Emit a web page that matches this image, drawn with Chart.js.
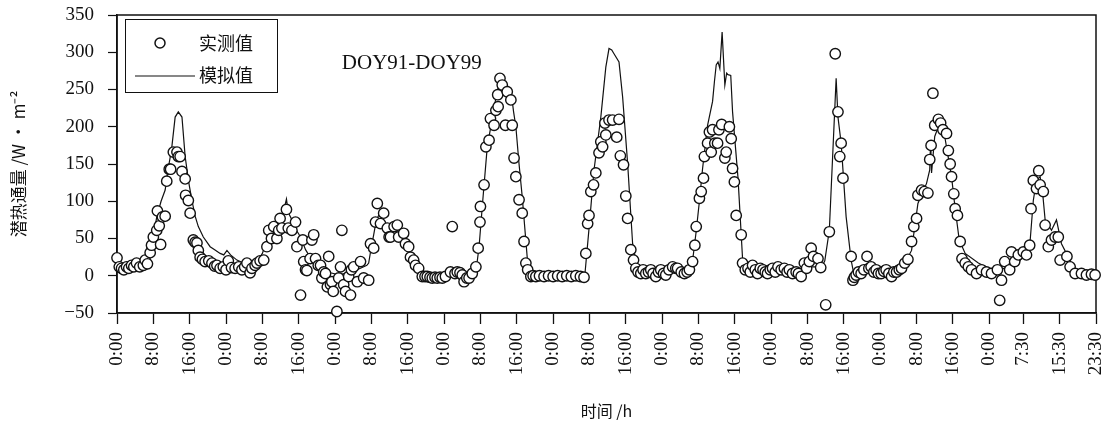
<!DOCTYPE html>
<html>
<head>
<meta charset="utf-8">
<title>潜热通量 DOY91-DOY99</title>
<script src="https://cdn.jsdelivr.net/npm/chart.js@4.4.1/dist/chart.umd.min.js"></script>
<style>
    html, body { margin: 0; padding: 0; background: #fff; }
    #wrap { width: 1104px; height: 429px; }
</style>
</head>
<body>
<div id="wrap"><canvas id="fluxChart" width="1104" height="429"></canvas></div>
<script>
// Measured latent heat flux (W/m2) vs. hours since DOY91 0:00
const obsHours = [
    0.0, 0.5, 1.0, 1.5, 2.1, 2.6, 3.2, 3.7, 4.3, 5.0,
    5.8, 6.2, 6.7, 7.3, 7.6, 8.0, 8.75, 8.9, 9.3, 9.6,
    10.0, 10.6, 10.95, 11.5, 11.8, 12.4, 13.2, 13.5, 13.9, 14.3,
    15.0, 15.1, 15.7, 16.1, 16.8, 17.2, 17.6, 17.9, 18.3, 18.8,
    19.4, 20.2, 20.9, 21.5, 22.0, 22.7, 23.4, 24.0, 24.5, 25.2,
    26.0, 26.8, 27.5, 28.1, 28.6, 29.3, 29.7, 30.4, 30.8, 31.5,
    32.3, 33.0, 33.4, 34.0, 34.5, 35.2, 35.6, 35.9, 36.3, 37.3,
    37.7, 38.5, 39.3, 39.6, 40.4, 40.9, 41.1, 41.5, 41.8, 42.5,
    42.9, 43.3, 43.7, 44.3, 44.8, 45.1, 45.5, 45.9, 46.3, 46.6,
    47.0, 47.3, 47.6, 48.4, 48.8, 49.2, 49.5, 49.9, 50.3, 51.0,
    51.4, 51.6, 52.1, 52.9, 53.6, 54.3, 55.4, 55.8, 56.5, 56.9,
    57.3, 58.0, 58.7, 59.5, 59.9, 60.2, 61.0, 61.7, 62.0, 63.1,
    63.5, 64.2, 64.6, 65.3, 65.7, 66.4, 67.2, 67.8, 68.3, 68.9,
    69.4, 70.0, 70.5, 71.1, 71.6, 72.3, 73.4, 73.8, 74.4, 74.9,
    75.5, 76.0, 76.4, 77.0, 77.5, 78.2, 79.0, 79.5, 79.9, 80.0,
    80.8, 81.2, 81.9, 82.2, 83.0, 83.4, 83.8, 83.9, 84.3, 84.8,
    85.5, 85.9, 86.7, 87.0, 87.4, 87.8, 88.5, 89.2, 89.6, 90.0,
    90.4, 91.1, 91.6, 92.2, 93.0, 94.0, 95.0, 96.0, 97.0, 98.0,
    99.0, 100.0, 101.0, 102.0, 102.8, 103.2, 103.6, 103.9, 104.3, 104.9,
    105.4, 106.1, 106.5, 106.9, 107.4, 107.6, 108.3, 109.1, 110.0, 110.5,
    110.8, 111.5, 112.0, 112.4, 113.1, 113.7, 114.2, 114.7, 115.3, 115.8,
    116.4, 117.0, 117.5, 118.0, 118.6, 119.2, 119.7, 120.3, 120.8, 121.5,
    122.3, 123.0, 123.4, 124.2, 124.9, 125.5, 126.0, 126.7, 127.2, 127.5,
    128.2, 128.6, 129.1, 129.3, 130.0, 130.4, 130.8, 131.1, 131.6, 132.2,
    132.5, 133.1, 133.8, 134.1, 134.8, 135.2, 135.5, 135.9, 136.3, 137.4,
    137.7, 138.3, 138.9, 139.4, 139.9, 140.5, 141.0, 141.6, 142.2, 142.7,
    143.2, 143.8, 144.3, 144.9, 145.5, 146.2, 146.9, 147.5, 148.0, 148.7,
    149.5, 150.0, 150.6, 151.3, 151.8, 152.4, 152.8, 153.3, 154.3, 154.9,
    156.0, 156.8, 158.1, 158.7, 159.1, 159.4, 159.8, 161.6, 162.0, 162.3,
    162.7, 163.2, 163.8, 164.4, 165.1, 165.5, 166.0, 166.6, 167.1, 167.6,
    168.2, 168.8, 169.3, 169.9, 170.5, 171.0, 171.6, 172.2, 172.7, 173.4,
    174.1, 174.9, 175.4, 176.0, 176.3, 177.1, 177.7, 178.5, 178.9, 179.2,
    179.6, 180.0, 180.8, 181.3, 181.8, 182.6, 183.0, 183.4, 183.7, 184.2,
    184.5, 185.0, 185.6, 186.0, 186.7, 187.4, 188.1, 189.2, 190.3, 191.4,
    192.5, 193.8, 194.3, 194.7, 195.4, 196.5, 196.9, 197.6, 198.4, 199.5,
    200.2, 200.9, 201.2, 201.7, 202.4, 202.9, 203.2, 203.9, 204.3, 205.0,
    205.7, 206.5, 207.2, 207.6, 209.1, 209.8, 210.9, 212.3, 213.4, 214.5,
    215.3
];
const obsValues = [
    24, 12, 10, 8, 12, 10, 14, 12, 17, 12,
    14, 21, 16, 31, 41, 52, 61, 87, 67, 42,
    79, 80, 127, 143, 143, 166, 166, 160, 160, 140,
    130, 108, 101, 84, 48, 45, 44, 34, 25, 22,
    19, 20, 17, 13, 14, 10, 12, 8, 20, 11,
    10, 12, 8, 12, 17, 4, 10, 14, 17, 20,
    21, 39, 61, 50, 66, 50, 61, 77, 64, 89,
    64, 61, 72, 39, -26, 48, 19, 8, 7, 23,
    48, 55, 23, 14, 14, -3, 5, 3, -15, 26,
    -12, -8, -21, -48, -3, 12, 61, -12, -21, -1,
    -26, 8, 12, -8, 19, -3, -6, 43, 37, 72,
    97, 70, 84, 64, 52, 52, 66, 68, 52, 57,
    43, 39, 25, 21, 14, 10, -1, -1, -1, -2,
    -3, -2, -3, -2, -3, -1, 5, 66, 3, 5,
    4, 1, -8, -3, -3, 3, 12, 37, 72, 93,
    122, 173, 182, 211, 202, 222, 243, 227, 265, 256,
    202, 247, 236, 202, 158, 133, 102, 84, 46, 17,
    8, -1, 0, -1, 0, -1, 0, -1, 0, -1,
    0, -1, 0, -1, -2, 30, 70, 81, 113, 122,
    138, 165, 180, 173, 205, 189, 209, 209, 186, 210,
    161, 149, 107, 77, 35, 21, 10, 5, 3, 8,
    3, 5, 8, 3, -1, 5, 8, 3, 1, 8,
    12, 10, 10, 5, 3, 5, 8, 19, 41, 66,
    104, 113, 131, 160, 178, 193, 166, 196, 178, 178,
    196, 203, 158, 166, 200, 184, 144, 126, 81, 55,
    17, 8, 10, 5, 14, 8, 3, 10, 8, 5,
    3, 8, 10, 5, 12, 8, 10, 5, 8, 3,
    5, 3, -1, 17, 10, 19, 37, 26, 23, 11,
    -39, 59, 298, 220, 160, 178, 131, 26, -6, -2,
    1, 5, 3, 8, 26, 10, 12, 5, 8, 3,
    3, 6, 8, 3, -1, 5, 5, 8, 10, 17,
    22, 46, 66, 77, 108, 115, 113, 111, 156, 175,
    245, 202, 210, 205, 196, 191, 168, 150, 133, 110,
    90, 81, 46, 23, 17, 12, 8, 3, 8, 5,
    3, 8, -33, -6, 19, 8, 32, 19, 28, 32,
    28, 41, 90, 128, 117, 141, 122, 113, 68, 39,
    48, 52, 52, 21, 26, 12, 3, 3, 1, 2,
    1
];

// Simulated latent heat flux
const simHours = [
    0, 1, 2, 3, 4, 5, 5.7, 6.5, 7.5, 8.75,
    9.7, 10.6, 11.3, 12, 12.8, 13.5, 14.3, 15, 15.8, 16.5,
    17.2, 17.9, 19, 20.5, 21.5, 22.7, 23.5, 24.2, 25, 26.4,
    27.5, 29.3, 30, 31, 32, 33, 34, 35.2, 36, 36.8,
    37.3, 37.7, 38.5, 39.6, 40.4, 41.5, 42.5, 43.5, 44.5, 45.5,
    47, 49, 50.5, 52, 53.6, 55, 55.4, 56, 56.5, 57,
    57.5, 58, 58.7, 59.2, 60, 61, 62, 63, 64, 65,
    66, 67, 68, 70, 72, 74, 76, 78, 79, 79.7,
    80.5, 81.5, 82.6, 83.7, 84.8, 85.6, 86.7, 87.3, 87.8, 88.5,
    89.2, 90.4, 91, 94, 97, 100, 103, 104, 105, 106.5,
    107.6, 108.3, 108.9, 109.4, 110.5, 111.3, 112.4, 113.5, 114.6, 116,
    118, 120, 122, 124, 126, 126.7, 127.5, 128.2, 128.9, 130,
    131.1, 131.5, 131.9, 132.3, 132.7, 133.2, 133.8, 134.2, 134.5, 135.1,
    135.5, 136.7, 137.7, 138.5, 140, 142, 144, 146, 148, 150,
    152, 154, 155, 155.8, 156.8, 158.3, 158.7, 159.4, 160.5, 161.6,
    162.3, 163, 165, 167, 169, 171, 173, 174.9, 176.3, 178.2,
    178.9, 179.1, 179.3, 180, 180.8, 182.2, 183.7, 184.5, 185.4, 186.7,
    189.6, 192.5, 195.4, 198.4, 200.9, 201.7, 202.4, 203.2, 203.8, 204.3,
    205.7, 206.8, 207.9, 209.4, 210.9, 212.5, 215.5
];
const simValues = [
    20, 12, 10, 12, 12, 12, 13, 20, 35, 79,
    100, 115, 145, 169, 213, 220, 213, 160, 125, 101,
    80, 66, 52, 39, 35, 30, 28, 34, 28, 21,
    18, 17, 17, 20, 30, 48, 55, 66, 75, 90,
    103, 85, 75, 60, 52, 35, 25, 17, 14, 10,
    4, 1, 4, 6, 10, 14, 17, 39, 55, 72,
    80, 85, 64, 70, 62, 66, 55, 52, 40, 25,
    14, 3, 0, 0, 1, 1, 0, 1, 5, 39,
    100, 173, 211, 249, 263, 258, 249, 220, 200, 150,
    106, 17, 0, 0, 1, 0, 2, 70, 142, 213,
    280, 305, 303, 298, 287, 240, 151, 43, 8, 6,
    5, 6, 8, 6, 10, 20, 60, 100, 144, 202,
    234, 260, 283, 287, 278, 327, 256, 272, 270, 269,
    220, 131, 23, 14, 10, 8, 10, 8, 10, 8,
    12, 12, 10, 20, 61, 265, 213, 178, 79, 21,
    -1, 3, 8, 8, 6, 8, 12, 34, 97, 124,
    142, 182, 138, 187, 200, 187, 133, 90, 48, 30,
    17, 8, 10, 17, 39, 101, 128, 133, 108, 75,
    61, 75, 43, 25, 8, 3, 1
];

// x axis ticks (hours) and their labels
const tickHours = [0, 8, 16, 24, 32, 40, 48, 56, 64, 72, 80, 88, 96, 104, 112,
    120, 128, 136, 144, 152, 160, 168, 176, 184, 192, 199.5, 207.5, 215.5];
const tickLabels = ['0:00', '8:00', '16:00', '0:00', '8:00', '16:00', '0:00', '8:00', '16:00',
    '0:00', '8:00', '16:00', '0:00', '8:00', '16:00', '0:00', '8:00', '16:00',
    '0:00', '8:00', '16:00', '0:00', '8:00', '16:00', '0:00', '7:30', '15:30', '23:30'];

const INK = '#111';
const SERIF = "'Liberation Serif', 'DejaVu Serif', serif";
const CJK = "'Noto Sans CJK SC', sans-serif";

/**
 * Box around the plot area
 */
const framePlugin = {
    id: 'frame',
    beforeDatasetsDraw(chart) {
        const a = chart.chartArea;
        const c = chart.ctx;
        c.save();
        c.strokeStyle = INK;
        c.lineWidth = 1.5;
        c.strokeRect(a.left, a.top, a.right - a.left, a.bottom - a.top);
        c.restore();
    }
};

/**
 * Legend box in the top left corner and the period label
 */
const legendPlugin = {
    id: 'boxLegend',
    afterDraw(chart) {
        const a = chart.chartArea;
        const c = chart.ctx;
        const x0 = a.left + 8, y0 = a.top + 4;
        c.save();
        c.fillStyle = '#fff';
        c.fillRect(x0, y0, 152, 73);
        c.strokeStyle = INK;
        c.lineWidth = 1;
        c.strokeRect(x0 + 0.5, y0 + 0.5, 152, 73);

        // measured entry
        c.beginPath();
        c.arc(x0 + 35, y0 + 24, 5, 0, Math.PI * 2);
        c.lineWidth = 1.5;
        c.stroke();
        c.fillStyle = INK;
        c.font = '18px ' + CJK;
        c.textBaseline = 'middle';
        c.fillText('实测值', x0 + 74, y0 + 24);

        // simulated entry
        c.beginPath();
        c.moveTo(x0 + 10, y0 + 57);
        c.lineTo(x0 + 70, y0 + 57);
        c.lineWidth = 1.2;
        c.stroke();
        c.fillText('模拟值', x0 + 74, y0 + 56);

        // period label
        c.font = '21px ' + SERIF;
        c.fillText('DOY91-DOY99', chart.scales.x.getPixelForValue(49.5), chart.scales.y.getPixelForValue(285));
        c.restore();
    }
};

function toPoints(xs, ys) {
    return xs.map((x, i) => ({ x: x, y: ys[i] }));
}

new Chart(document.getElementById('fluxChart'), {
    type: 'scatter',
    data: {
        datasets: [{
            label: '实测值',
            data: toPoints(obsHours, obsValues),
            showLine: false,
            pointRadius: 5.2,
            pointBorderWidth: 1.4,
            pointBackgroundColor: '#fff',
            pointBorderColor: INK,
            clip: false
        }, {
            label: '模拟值',
            type: 'line',
            data: toPoints(simHours, simValues),
            borderColor: INK,
            borderWidth: 1.2,
            pointRadius: 0,
            tension: 0,
            fill: false
        }]
    },
    options: {
        responsive: false,
        animation: false,
        events: [],
        layout: { padding: { top: 15, right: 8, left: 0, bottom: 0 } },
        plugins: {
            legend: { display: false },
            tooltip: { enabled: false }
        },
        scales: {
            x: {
                type: 'linear',
                min: 0,
                max: 215.5,
                afterBuildTicks: function (scale) {
                    scale.ticks = tickHours.map(v => ({ value: v }));
                },
                afterFit: function (scale) {
                    scale.height = 116;
                    scale.paddingLeft = 0;
                    scale.paddingRight = 0;
                },
                ticks: {
                    autoSkip: false,
                    maxRotation: 90,
                    minRotation: 90,
                    padding: 8,
                    color: INK,
                    font: { family: SERIF, size: 19 },
                    callback: function (value, index) {
                        return tickLabels[index];
                    }
                },
                grid: {
                    drawOnChartArea: false,
                    drawTicks: true,
                    tickLength: 11,
                    tickWidth: 1.3,
                    color: INK
                },
                border: { display: true, color: INK, width: 1.5 },
                title: {
                    display: true,
                    text: '时间 /h',
                    color: INK,
                    font: { family: CJK, size: 16 },
                    padding: { top: 0, bottom: 8 }
                }
            },
            y: {
                min: -50,
                max: 350,
                afterFit: function (scale) {
                    scale.width = 117;
                    scale.paddingTop = 0;
                    scale.paddingBottom = 0;
                },
                ticks: {
                    stepSize: 50,
                    padding: 14,
                    color: INK,
                    font: { family: SERIF, size: 19 },
                    callback: function (value) {
                        return value < 0 ? '\u2212' + Math.abs(value) : String(value);
                    }
                },
                grid: {
                    drawOnChartArea: false,
                    drawTicks: true,
                    tickLength: 9,
                    tickWidth: 1.2,
                    color: INK
                },
                border: { display: true, color: INK, width: 1.5 },
                title: {
                    display: true,
                    text: '潜热通量 /W · m⁻²',
                    color: INK,
                    font: { family: CJK, size: 17 },
                    padding: { top: 8, bottom: 0 }
                }
            }
        }
    },
    plugins: [framePlugin, legendPlugin]
});
</script>
</body>
</html>
